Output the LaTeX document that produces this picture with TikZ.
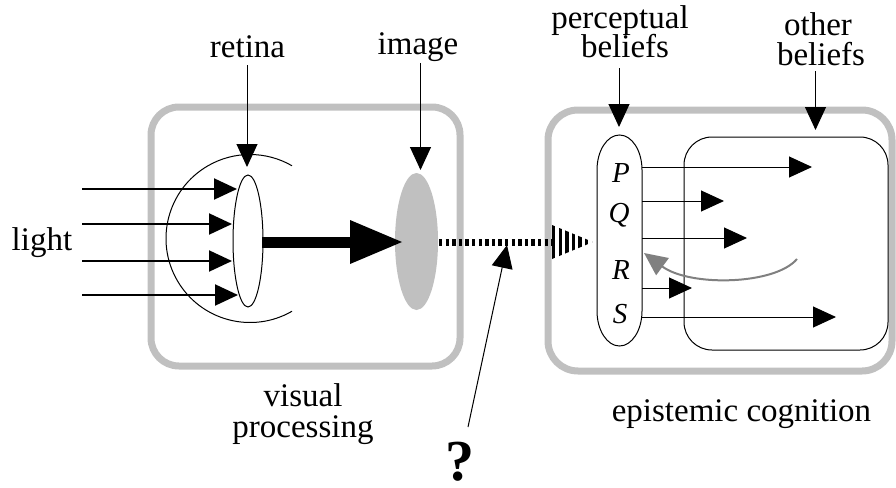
\documentclass[tikz,border=0pt]{standalone}
\usepackage{fontspec}
\setmainfont{Liberation Serif}
\usetikzlibrary{arrows.meta,shapes.geometric}
\definecolor{boxgray}{HTML}{C0C0C0}
\definecolor{curvegray}{HTML}{808080}
\begin{document}
\begin{tikzpicture}[x=1pt,y=-1pt,
  lbl/.style={inner sep=0pt, anchor=base, text height=21pt, text depth=6.5pt, font=\fontsize{33}{33}\selectfont},
  letter/.style={inner sep=0pt, anchor=base, font=\fontsize{29}{29}\selectfont\itshape},
  graybox/.style={draw=boxgray, line width=7pt, rectangle, inner sep=0pt},
  thinline/.style={line width=1pt},
  ptr/.style={line width=1pt, -{Triangle[length=23pt,width=21pt]}},
  lightarr/.style={line width=2pt, -{Triangle[length=23pt,width=21pt]}},
]
\useasboundingbox (0,0) rectangle (896,487);

% ---- big gray boxes
\node[graybox, rounded corners=28pt, minimum width=309pt, minimum height=259pt] (visbox) at (305.5,236.5) {};
\node[graybox, rounded corners=30pt, minimum width=344pt, minimum height=261pt] (epibox) at (720,240.5) {};
% other beliefs box
\node[draw, thinline, rectangle, rounded corners=28pt, inner sep=0pt, minimum width=204pt, minimum height=213pt] (othbox) at (786,243.5) {};

% ---- eye
\draw[thinline] (250,238.5) ++(60:84) arc[start angle=60, end angle=300, radius=84];
\node[draw, thinline, ellipse, inner sep=0pt, minimum width=30pt, minimum height=132pt] (lens) at (248,241) {};
% image
\node[fill=boxgray, ellipse, inner sep=0pt, minimum width=43pt, minimum height=137pt] (img) at (416.5,241.5) {};

% ---- light arrows
\coordinate (l1s) at (82,189); \coordinate (l1e) at (237,189);
\coordinate (l2s) at (82,224); \coordinate (l2e) at (232,224);
\coordinate (l3s) at (82,261); \coordinate (l3e) at (232,261);
\coordinate (l4s) at (82,295); \coordinate (l4e) at (238,295);
\draw[lightarr] (l1s) -- (l1e);
\draw[lightarr] (l2s) -- (l2e);
\draw[lightarr] (l3s) -- (l3e);
\draw[lightarr] (l4s) -- (l4e);

% ---- thick arrow lens -> image
\coordinate (thS) at (262,242);
\coordinate (thE) at (402,242);
\draw[line width=11pt, -{Triangle[length=52pt,width=44pt,line width=0pt]}] (thS) -- (thE);

% ---- dashed arrow image -> beliefs
\coordinate (dS) at (439,242);
\coordinate (dE) at (552,242);
\coordinate (dT) at (593,242);
\draw[line width=7pt, dash pattern=on 3.4pt off 3.2pt] (dS) -- (dE);
\begin{scope}
  \clip (552,225) -- (593,242) -- (552,259) -- cycle;
  \draw[line width=36pt, dash pattern=on 3.4pt off 3.2pt] (dE) -- (dT);
\end{scope}

% ---- question mark pointer
\node[inner sep=0pt, anchor=base, text depth=0pt, font=\fontsize{58}{58}\selectfont\bfseries] (q) at (460,480) {?};
\coordinate (qs) at (468,427);
\coordinate (qt) at (507,245);
\draw[ptr] (qs) -- (qt);

% ---- perceptual beliefs stadium
\draw[thinline] (597,170) .. controls (597,150.7) and (607.1,135) .. (619.5,135)
  .. controls (631.9,135) and (642,150.7) .. (642,170)
  -- (642,311) .. controls (642,330.3) and (631.9,346) .. (619.5,346)
  .. controls (607.1,346) and (597,330.3) .. (597,311) -- cycle;
\node[letter] (P) at (621,182) {P};
\node[letter] (Q) at (619,222) {Q};
\node[letter] (R) at (621,279) {R};
\node[letter] (S) at (620,323) {S};

% ---- belief arrows
\coordinate (aP) at (642,167); \coordinate (bP) at (812,167);
\coordinate (aQ) at (642,201); \coordinate (bQ) at (724,201);
\coordinate (aR) at (642,238); \coordinate (bR) at (747,238);
\coordinate (aX) at (642,288); \coordinate (bX) at (692,288);
\coordinate (aS) at (642,317); \coordinate (bS) at (836,317);
\draw[ptr] (aP) -- (bP);
\draw[ptr] (aQ) -- (bQ);
\draw[ptr] (aR) -- (bR);
\draw[ptr] (aX) -- (bX);
\draw[ptr] (aS) -- (bS);
% gray feedback curve
\coordinate (gS) at (797,259);
\coordinate (gE) at (644,253);
\draw[line width=2pt, curvegray, -{Triangle[length=23pt,width=21pt]}] (gS) .. controls (775,285) and (690,287) .. (gE);

% ---- labels
\node[lbl] (retina) at (247.5,58) {retina};
\node[lbl] (image) at (418,55) {image};
\node[lbl] (light) at (42,250) {light};
\node[lbl] (vis1) at (303,406) {visual};
\node[lbl] (vis2) at (303,437) {processing};
\node[lbl] (epi) at (741.5,421) {epistemic cognition};
\node[lbl] (perc1) at (620,29) {perceptual};
\node[lbl] (perc2) at (625,57) {beliefs};
\node[lbl] (oth1) at (818,36) {other};
\node[lbl] (oth2) at (821,65) {beliefs};

% ---- label pointers
\coordinate (rtS) at (247,65);    \coordinate (rtE) at (247,167);
\coordinate (imS) at (420.5,63);  \coordinate (imE) at (420.5,170);
\coordinate (pbS) at (619,68);    \coordinate (pbE) at (619,127);
\coordinate (obS) at (815.5,71);  \coordinate (obE) at (815.5,130);
\draw[ptr] (rtS) -- (rtE);
\draw[ptr] (imS) -- (imE);
\draw[ptr] (pbS) -- (pbE);
\draw[ptr] (obS) -- (obE);
\end{tikzpicture}
\end{document}
